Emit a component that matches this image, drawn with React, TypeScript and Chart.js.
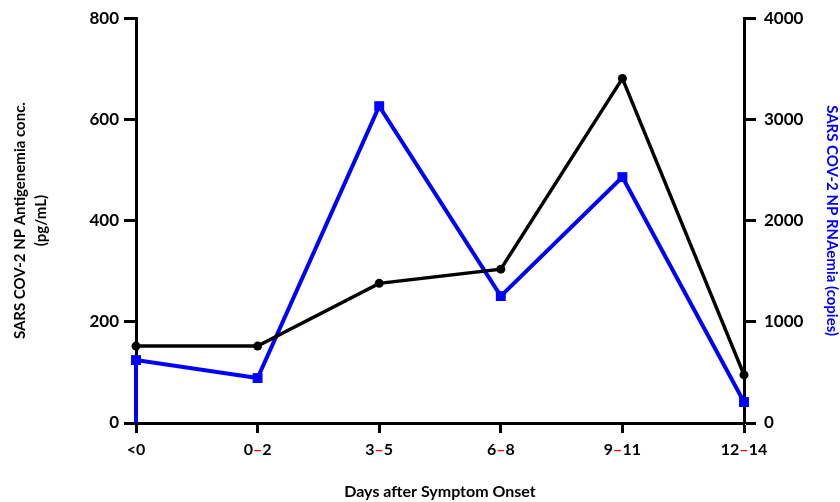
import React, { useEffect, useRef } from "react";
import { Chart, registerables } from "chart.js";

Chart.register(...registerables);

const categories = ["<0", "0–2", "3–5", "6–8", "9–11", "12–14"];
const antigenemia = [152, 152, 276, 304, 681, 95];
const rnaemia = [622, 444, 3131, 1254, 2430, 207];
const leftTicks = [0, 200, 400, 600, 800];
const rightTicks = [0, 1000, 2000, 3000, 4000];

const FONT = "Lato, 'DejaVu Sans', sans-serif";

const dashLabelPlugin = {
  id: "dashLabels",
  afterDraw(chart: any) {
    const scale = chart.scales.x;
    const ctx = chart.ctx;
    ctx.save();
    ctx.font = `bold 16px ${FONT}`;
    ctx.textBaseline = "top";
    ctx.textAlign = "left";
    const y = chart.chartArea.bottom + 10 + 9;
    categories.forEach((label, i) => {
      const cx = scale.getPixelForValue(i);
      const parts = label.split("–");
      const pieces: { t: string; c: string }[] = [];
      parts.forEach((p, j) => {
        if (j > 0) pieces.push({ t: "–", c: "#ff0000" });
        pieces.push({ t: p, c: "#000000" });
      });
      const total = pieces.reduce((s, p) => s + ctx.measureText(p.t).width, 0);
      let x = cx - total / 2;
      pieces.forEach((p) => {
        ctx.fillStyle = p.c;
        ctx.fillText(p.t, x, y);
        x += ctx.measureText(p.t).width;
      });
    });
    ctx.restore();
  },
};

export default function App() {
  const ref = useRef<HTMLCanvasElement | null>(null);
  useEffect(() => {
    document.body.style.margin = "0";
    const canvas = ref.current!;
    const blueData = [{ x: 0, y: 0 }, ...rnaemia.map((v, i) => ({ x: i, y: v }))];
    const blackData = antigenemia.map((v, i) => ({ x: i, y: v }));
    const chart = new Chart(canvas, {
      type: "line",
      data: {
        datasets: [
          {
            label: "Antigenemia",
            data: blackData,
            yAxisID: "y",
            borderColor: "#000000",
            backgroundColor: "#000000",
            borderWidth: 3.5,
            pointStyle: "circle",
            pointRadius: 4.5,
            pointBorderWidth: 0,
            tension: 0,
            clip: false as any,
            order: 0,
          },
          {
            label: "RNAemia",
            data: blueData,
            yAxisID: "y1",
            borderColor: "#0000ff",
            backgroundColor: "#0000ff",
            borderWidth: 4,
            pointStyle: "rect",
            pointRadius: blueData.map((_, i) => (i === 0 ? 0 : 7)),
            pointBorderWidth: 0,
            tension: 0,
            clip: false as any,
            order: 1,
          },
        ],
      },
      options: {
        animation: false,
        responsive: false,
        maintainAspectRatio: false,
        layout: { padding: { top: 18, left: 0, right: 0, bottom: 0 } },
        plugins: { legend: { display: false }, tooltip: { enabled: false } },
        scales: {
          x: {
            type: "linear",
            min: 0,
            max: 5,
            afterBuildTicks: (s: any) => {
              s.ticks = categories.map((_, i) => ({ value: i }));
            },
            afterFit: (s: any) => {
              s.height = 79;
            },
            ticks: {
              stepSize: 1,
              color: "rgba(0,0,0,0)",
              padding: 9,
              font: { family: FONT, size: 16, weight: "bold" },
              callback: (v: any) => categories[v as number] ?? "",
              maxRotation: 0,
            },
            grid: { drawOnChartArea: false, drawTicks: true, tickLength: 10, tickWidth: 3, tickColor: "#000" },
            border: { display: true, width: 3, color: "#000" },
            title: {
              display: true,
              text: "Days after Symptom Onset",
              color: "#000",
              font: { family: FONT, size: 16, weight: "bold", lineHeight: "18px" as any },
              padding: { top: 0, bottom: 1 },
            },
          },
          y: {
            type: "linear",
            position: "left",
            min: 0,
            max: 800,
            afterBuildTicks: (s: any) => {
              s.ticks = leftTicks.map((v) => ({ value: v }));
            },
            afterFit: (s: any) => {
              s.width = 136;
            },
            ticks: {
              color: "#000",
              padding: 5,
              font: { family: FONT, size: 17, weight: "bold" },
              callback: (v: any) => String(v),
            },
            grid: { drawOnChartArea: false, drawTicks: true, tickLength: 12, tickWidth: 3, tickColor: "#000" },
            border: { display: true, width: 3, color: "#000" },
            title: {
              display: true,
              text: ["SARS COV-2 NP Antigenemia conc.", "(pg/mL)"],
              color: "#000",
              font: { family: FONT, size: 15, weight: "bold", lineHeight: "21px" as any },
              padding: { top: 10, bottom: 0 },
            },
          },
          y1: {
            type: "linear",
            position: "right",
            min: 0,
            max: 4000,
            afterBuildTicks: (s: any) => {
              s.ticks = rightTicks.map((v) => ({ value: v }));
            },
            afterFit: (s: any) => {
              s.width = 96;
            },
            ticks: {
              color: "#000",
              padding: 8,
              font: { family: FONT, size: 17, weight: "bold" },
              callback: (v: any) => String(v),
            },
            grid: { drawOnChartArea: false, drawTicks: true, tickLength: 12, tickWidth: 3, tickColor: "#000" },
            border: { display: true, width: 3, color: "#000" },
            title: {
              display: true,
              text: "SARS COV-2 NP RNAemia (copies)",
              color: "#0000ff",
              font: { family: FONT, size: 15, weight: "bold", lineHeight: "16px" as any },
              padding: { top: 0, bottom: 0 },
            },
          },
        },
      } as any,
      plugins: [dashLabelPlugin],
    });
    return () => chart.destroy();
  }, []);
  return <canvas ref={ref} width={840} height={502} style={{ display: "block", width: 840, height: 502 }} />;
}
